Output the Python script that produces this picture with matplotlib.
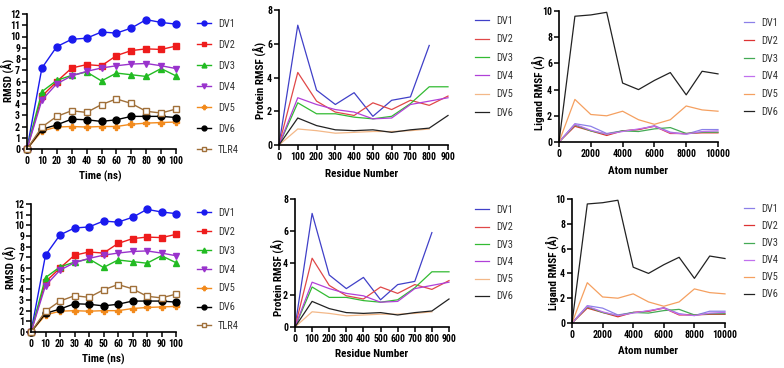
import matplotlib
matplotlib.use("Agg")
import matplotlib.pyplot as plt

plt.rcParams['font.family'] = ['Liberation Sans Narrow', 'Arial Narrow', 'Roboto Condensed',
                               'Archivo Narrow', 'PT Sans Narrow', 'DejaVu Sans Condensed',
                               'Liberation Sans', 'DejaVu Sans']

# RMSD vs time
time_ns = [0, 10, 20, 30, 40, 50, 60, 70, 80, 90, 100]
rmsd = {
    'DV1': [0, 7.2, 9.1, 9.75, 9.85, 10.4, 10.3, 10.75, 11.5, 11.25, 11.1],
    'DV2': [0, 4.7, 6.0, 7.2, 7.5, 7.4, 8.3, 8.75, 8.9, 8.85, 9.15],
    'DV3': [0, 5.1, 6.1, 6.55, 6.85, 6.05, 6.75, 6.6, 6.45, 7.15, 6.5],
    'DV4': [0, 4.35, 5.8, 6.5, 6.9, 7.2, 7.4, 7.55, 7.6, 7.4, 7.15],
    'DV5': [0, 1.6, 1.95, 2.0, 1.95, 2.0, 2.0, 2.2, 2.3, 2.35, 2.4],
    'DV6': [0, 1.75, 2.15, 2.65, 2.6, 2.45, 2.6, 2.9, 2.9, 2.9, 2.8],
    'TLR4': [0, 1.95, 2.9, 3.4, 3.25, 3.95, 4.45, 4.05, 3.35, 3.2, 3.55],
}

# protein RMSF vs residue
residue = [0, 100, 200, 300, 400, 500, 600, 700, 800, 900]
prot_rmsf = {
    'DV1': [0, 7.1, 3.25, 2.4, 3.1, 1.7, 2.65, 2.85, 5.9],
    'DV2': [0, 4.3, 2.6, 1.95, 1.75, 2.5, 2.1, 2.65, 2.35, 2.9],
    'DV3': [0, 2.5, 1.85, 1.85, 1.65, 1.55, 1.7, 2.45, 3.45, 3.45],
    'DV4': [0, 2.8, 2.4, 2.1, 1.95, 1.55, 1.6, 2.4, 2.6, 2.8],
    'DV5': [0, 0.95, 0.85, 0.7, 0.75, 0.8, 0.8, 0.85, 0.95],
    'DV6': [0, 1.6, 1.15, 0.9, 0.85, 0.9, 0.75, 0.9, 1.0, 1.75],
}

# ligand RMSF vs atom
atom = [0, 1000, 2000, 3000, 4000, 5000, 6000, 7000, 8000, 9000, 10000]
lig_rmsf = {
    'DV1': [0, 1.4, 1.2, 0.65, 0.85, 0.95, 1.25, 0.75, 0.6, 0.95, 0.95],
    'DV2': [0, 1.2, 0.85, 0.5, 0.85, 0.95, 1.2, 0.65, 0.65, 0.7, 0.7],
    'DV3': [0, 1.3, 0.85, 0.6, 0.85, 0.8, 1.0, 1.1, 0.65, 0.75, 0.75],
    'DV4': [0, 1.35, 0.9, 0.6, 0.8, 1.0, 1.2, 0.7, 0.6, 0.8, 0.85],
    'DV5': [0, 3.25, 2.1, 2.0, 2.35, 1.7, 1.35, 1.7, 2.75, 2.45, 2.35],
    'DV6': [0, 9.6, 9.7, 9.9, 4.5, 4.0, 4.7, 5.3, 3.6, 5.4, 5.2],
}

rmsd_style = {
    'DV1': ('#1a1aee', 'o', True),
    'DV2': ('#ee1c1c', 's', True),
    'DV3': ('#22bb22', '^', True),
    'DV4': ('#9933cc', 'v', True),
    'DV5': ('#f28a1c', 'P', True),
    'DV6': ('#000000', 'o', True),
    'TLR4': ('#a0703a', 's', False),
}
prot_col = {'DV1': '#4040c8', 'DV2': '#e04848', 'DV3': '#33bb33',
            'DV4': '#b040d8', 'DV5': '#f3b888', 'DV6': '#222222'}
lig_col = {'DV1': '#8c80e8', 'DV2': '#dd3333', 'DV3': '#44aa55',
           'DV4': '#c070ee', 'DV5': '#f5a060', 'DV6': '#222222'}

W, H = 784, 368
fig = plt.figure(figsize=(W / 100, H / 100), dpi=100)


def box(l, r, t, b):
    return [l / W, 1 - b / H, (r - l) / W, (b - t) / H]


def style(ax, xlab, ylab, xpos, ypos):
    for s in ['top', 'right']:
        ax.spines[s].set_visible(False)
    for s in ['left', 'bottom']:
        ax.spines[s].set_linewidth(1.2)
    ax.tick_params(width=1.1, length=3.5, labelsize=7, pad=1.5)
    for lab in ax.get_xticklabels() + ax.get_yticklabels():
        lab.set_fontweight('bold')
    ax.set_xlabel(xlab, fontsize=8, fontweight='bold', va='center', ha='center')
    ax.set_ylabel(ylab, fontsize=8, fontweight='bold', va='center', ha='center')
    ax.xaxis.set_label_coords(xpos[0] / W, 1 - xpos[1] / H, transform=fig.transFigure)
    ax.yaxis.set_label_coords(ypos[0] / W, 1 - ypos[1] / H, transform=fig.transFigure)


def legend(ax, x, y, spacing, hl, mscale=1.0):
    leg = ax.legend(loc='upper left', bbox_to_anchor=(x / W, 1 - y / H),
                    bbox_transform=fig.transFigure, frameon=False, fontsize=7.5,
                    handlelength=hl, handletextpad=0.7, labelspacing=spacing,
                    borderpad=0, borderaxespad=0, markerscale=mscale)
    for t in leg.get_texts():
        t.set_color('#333333')


rows = [
    dict(a1=box(27, 176, 14, 149), a2=box(279, 448, 10, 145), a3=box(559, 718, 11, 142),
         l1=(197, 19, 1.05), l2=(475, 16, 0.8), l3=(744, 18, 0.75),
         x1=(100, 176), y1=(7, 80), x2=(362, 174), y2=(259, 80), x3=(638, 171), y3=(538, 93)),
    dict(a1=box(31, 176, 204, 332), a2=box(295, 449, 199, 327), a3=box(572, 725, 199, 323),
         l1=(197, 208, 0.85), l2=(475, 205, 0.7), l3=(744, 204, 0.68),
         x1=(103, 359), y1=(9, 267), x2=(372, 354), y2=(277, 277), x3=(648, 351), y3=(552, 273)),
]

for r in rows:
    ax = fig.add_axes(r['a1'])
    for k, v in rmsd.items():
        c, m, filled = rmsd_style[k]
        ax.plot(time_ns, v, color=c, marker=m, lw=1.0, ms=5 if m != 'P' else 4.5,
                mfc=c if filled else 'white', mec=c, mew=1.0, label=k, clip_on=False)
    ax.set_xlim(0, 100)
    ax.set_ylim(0, 12)
    ax.set_xticks(range(0, 101, 10))
    ax.set_yticks(range(0, 13))
    style(ax, 'Time (ns)', 'RMSD (Å)', r['x1'], r['y1'])
    legend(ax, r['l1'][0], r['l1'][1], r['l1'][2], 1.3, 0.7)

    ax = fig.add_axes(r['a2'])
    for k, v in prot_rmsf.items():
        ax.plot(residue[:len(v)], v, color=prot_col[k], lw=0.9, label=k, clip_on=False)
    ax.set_xlim(0, 900)
    ax.set_ylim(0, 8)
    ax.set_xticks(range(0, 901, 100))
    ax.set_yticks(range(0, 9, 2))
    style(ax, 'Residue Number', 'Protein RMSF (Å)', r['x2'], r['y2'])
    legend(ax, r['l2'][0], r['l2'][1], r['l2'][2], 1.3)

    ax = fig.add_axes(r['a3'])
    for k, v in lig_rmsf.items():
        ax.plot(atom, v, color=lig_col[k], lw=0.9, label=k, clip_on=False)
    ax.set_xlim(0, 10000)
    ax.set_ylim(0, 10)
    ax.set_xticks(range(0, 10001, 2000))
    ax.set_yticks(range(0, 11, 2))
    style(ax, 'Atom number', 'Ligand RMSF (Å)', r['x3'], r['y3'])
    legend(ax, r['l3'][0], r['l3'][1], r['l3'][2], 1.0)

fig.savefig('out.png', dpi=100)
